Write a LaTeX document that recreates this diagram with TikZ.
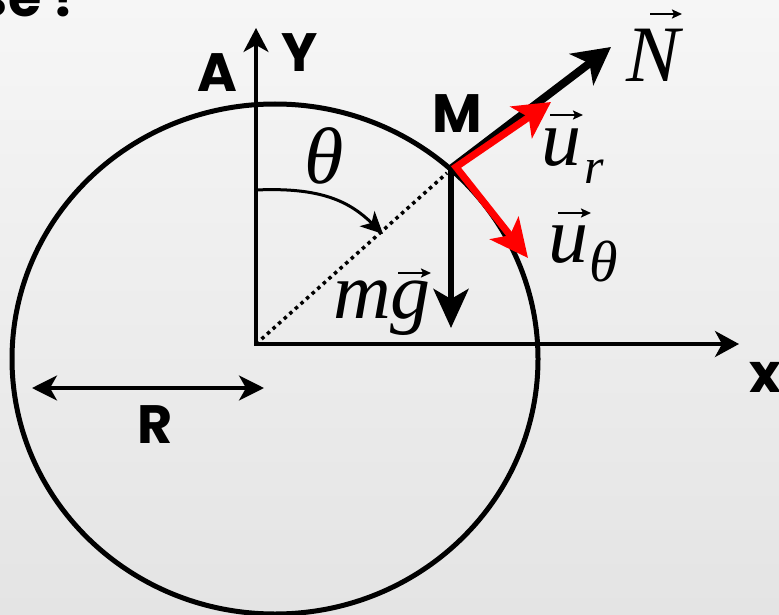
\documentclass[tikz,border=0pt]{standalone}
\usepackage{fontspec}
\setmainfont{Liberation Serif}
\newfontfamily\comic{Poppins}
\usetikzlibrary{arrows.meta}
\definecolor{bgtop}{RGB}{246,246,246}
\definecolor{bgbot}{RGB}{228,228,228}
\definecolor{vred}{RGB}{255,0,0}
\begin{document}
\begin{tikzpicture}[x=1pt,y=-1pt,
  lbl/.style={inner sep=0pt, anchor=base west},
  mathl/.style={lbl, font=\fontsize{80}{80}\selectfont\itshape},
  subl/.style={lbl, font=\fontsize{50}{50}\selectfont\itshape},
  subth/.style={lbl, font=\fontsize{58}{58}\selectfont\itshape},
  comicl/.style={lbl, font=\fontsize{54}{54}\selectfont\comic\bfseries},
  axisline/.style={line width=3.5pt, {Stealth[length=24pt,width=25pt,inset=7pt]}-{Stealth[length=24pt,width=26pt,inset=7pt]}},
  vecmark/.style={line width=2pt, -{Stealth[length=10pt,width=9pt,inset=2pt]}},
  bigvec/.style={line width=8pt, -{Stealth[length=37pt,width=39pt,inset=10pt]}},
  redvec/.style={vred, line width=7pt, {Stealth[length=36pt,width=38pt,inset=9pt]}-{Stealth[length=38pt,width=36pt,inset=9pt]}},
]
\useasboundingbox (0,0) rectangle (779,615);
\shade[top color=bgtop, bottom color=bgbot] (0,0) rectangle (779,615);
\begin{scope}
\clip (0,0) rectangle (779,615);
% coordinates
\coordinate (O) at (256,344);
\coordinate (Ytip) at (256,28);
\coordinate (Xtip) at (739,344);
\coordinate (M) at (456,167);
\coordinate (Nstart) at (452,168);
\coordinate (Ntip) at (611,47);
\coordinate (urtip) at (551,102);
\coordinate (uttip) at (528,258);
\coordinate (gtop) at (451,167);
\coordinate (gtip) at (451,328);
\coordinate (Rl) at (32,388);
\coordinate (Rr) at (264,388);
\coordinate (arcs) at (256,190);
\coordinate (arce) at (383,234);
\coordinate (dotend) at (447,173);
% circle
\draw[line width=5pt] (275,359) ellipse [x radius=263pt, y radius=255pt];
% axes
\draw[axisline] (Ytip) -- (O) -- (Xtip);
% dotted radius
\draw[line width=3.5pt, dash pattern=on 3.5pt off 4pt] (O) -- (dotend);
% theta arc
\draw[line width=3pt, -{Stealth[length=22pt,width=21pt,inset=6pt]}] (arcs) .. controls (322,187) and (350,202) .. (arce);
% R arrow
\draw[line width=3.5pt, {Stealth[length=25pt,width=25pt,inset=7pt]}-{Stealth[length=25pt,width=25pt,inset=7pt]}] (Rl) -- (Rr);
% weight
\draw[line width=6pt, -{Stealth[length=39pt,width=35pt,inset=10pt]}] (gtop) -- (gtip);
% N
\draw[bigvec] (Nstart) -- (Ntip);
% unit vectors
\draw[redvec, line join=miter] (urtip) -- (M) -- (uttip);
% labels
\node[mathl] (th) at (304,183) {θ};
\node[mathl] (N) at (626,82) {N};
\node[mathl] (u1) at (541,165) {u};
\node[subl] (r) at (584,183) {r};
\node[mathl] (u2) at (548,262) {u};
\node[subth] (th2) at (589,281) {θ};
\node[mathl] (mg) at (333,318) {mg};
\draw[vecmark] (650,14) -- (682,14);
\draw[vecmark] (550,115) -- (583,115);
\draw[vecmark] (558,213) -- (591,213);
\draw[vecmark] (398,273) -- (431,273);
\node[comicl] (A) at (197,92) {A};
\node[comicl] (Y) at (281,72) {Y};
\node[comicl] (Ml) at (432,133) {M};
\node[comicl] (R) at (137,443) {R};
\node[comicl] (x) at (749,392) {x};
\node[comicl, anchor=base east] (q) at (82,17) {se ?};
\end{scope}
\end{tikzpicture}
\end{document}
